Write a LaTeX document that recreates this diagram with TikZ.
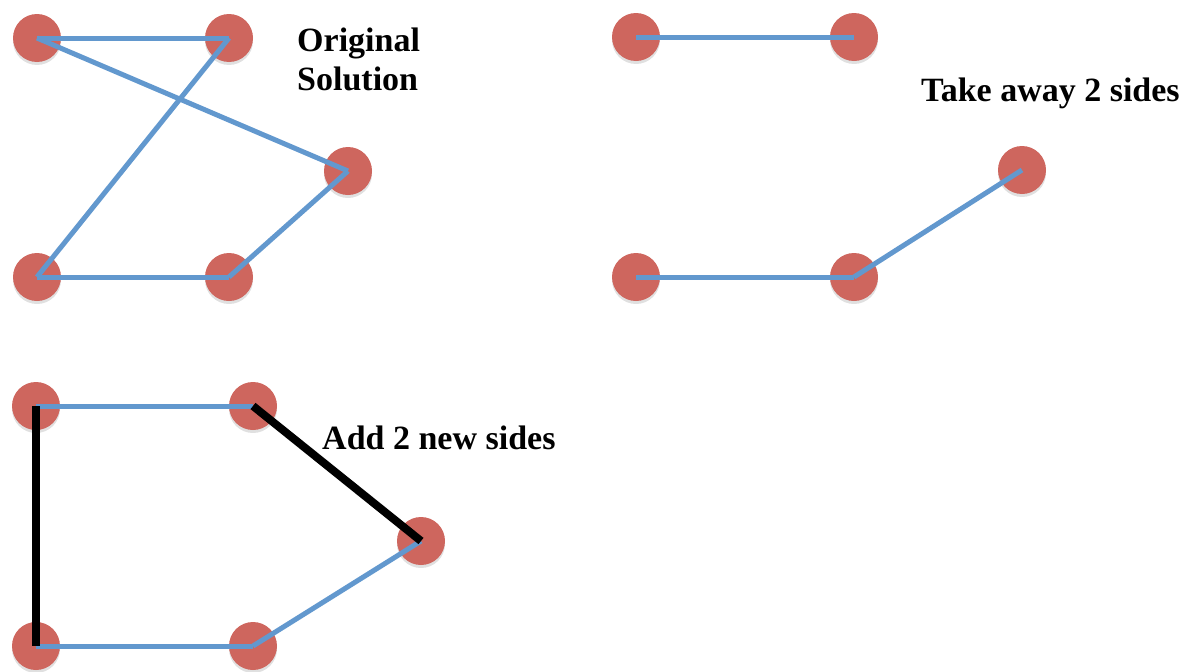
\documentclass[tikz,border=0pt]{standalone}
\usepackage{fontspec}
\setmainfont{Liberation Serif}
\definecolor{dotred}{RGB}{206,102,94}
\definecolor{edgeblue}{RGB}{98,152,206}
\begin{document}
\begin{tikzpicture}[x=1pt,y=-1pt,
  vertex/.style={circle,fill=dotred,minimum size=48pt,inner sep=0pt,
    preaction={fill=black,opacity=0.12,transform canvas={yshift=-3pt}}},
  edge/.style={draw=edgeblue,line width=5pt},
  newedge/.style={draw=black,line width=8pt},
  caption/.style={font=\fontsize{34}{40}\selectfont\bfseries,inner sep=0pt,anchor=base west}]
\useasboundingbox (0,0) rectangle (1195,672);

% original tour
\node[vertex] (a1) at (37,38) {};
\node[vertex] (b1) at (229,38) {};
\node[vertex] (c1) at (348,171) {};
\node[vertex] (d1) at (37,277) {};
\node[vertex] (e1) at (229,277) {};
\draw[edge] (a1.center) -- (b1.center);
\draw[edge] (a1.center) -- (c1.center);
\draw[edge] (b1.center) -- (d1.center);
\draw[edge] (d1.center) -- (e1.center);
\draw[edge] (e1.center) -- (c1.center);
\node[caption] (t1a) at (297,51) {Original};
\node[caption] (t1b) at (297,90) {Solution};

% two sides removed
\node[vertex] (a2) at (636,37) {};
\node[vertex] (b2) at (854,37) {};
\node[vertex] (c2) at (1022,170) {};
\node[vertex] (d2) at (636,277) {};
\node[vertex] (e2) at (854,277) {};
\draw[edge] (a2.center) -- (b2.center);
\draw[edge] (d2.center) -- (e2.center);
\draw[edge] (e2.center) -- (c2.center);
\node[caption] (t2) at (921,101) {Take away 2 sides};

% two new sides added
\node[vertex] (a3) at (36,406) {};
\node[vertex] (b3) at (253,406) {};
\node[vertex] (c3) at (421,541) {};
\node[vertex] (d3) at (36,646) {};
\node[vertex] (e3) at (253,646) {};
\draw[edge] (a3.center) -- (b3.center);
\draw[edge] (d3.center) -- (e3.center);
\draw[edge] (e3.center) -- (c3.center);
\draw[newedge] (a3.center) -- (d3.center);
\draw[newedge] (b3.center) -- (c3.center);
\node[caption] (t3) at (322,449) {Add 2 new sides};
\end{tikzpicture}
\end{document}
